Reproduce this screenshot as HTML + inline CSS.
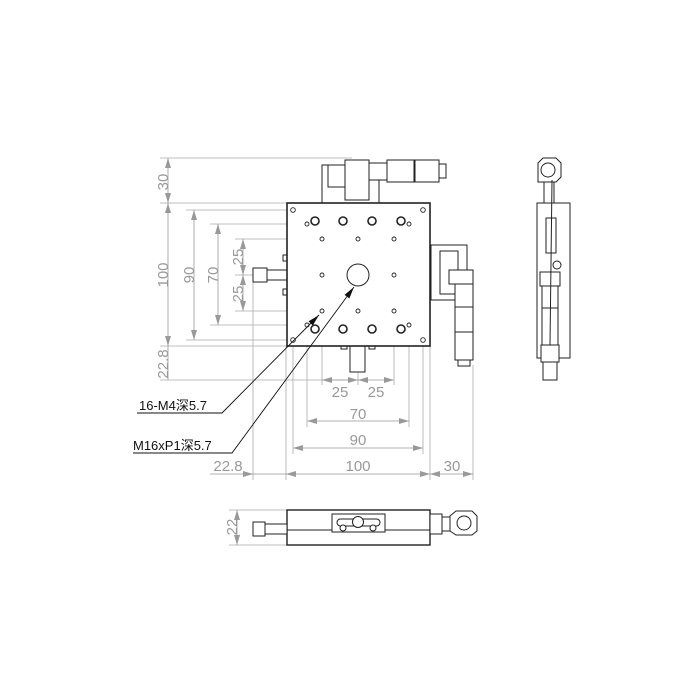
<!DOCTYPE html>
<html><head><meta charset="utf-8"><style>
html,body{margin:0;padding:0;background:#fff;}
svg{display:block}
text{font-family:"Liberation Sans","Noto Sans CJK SC",sans-serif;}
</style></head><body>
<svg width="700" height="700" viewBox="0 0 700 700" xmlns="http://www.w3.org/2000/svg">
<defs>
<marker id="a" viewBox="0 0 10 6" refX="10" refY="3" markerWidth="10" markerHeight="6" orient="auto-start-reverse" markerUnits="userSpaceOnUse"><path d="M0,0 L10,3 L0,6z" fill="#999"/></marker>
<marker id="k" viewBox="0 0 12 6" refX="12" refY="3" markerWidth="12" markerHeight="6" orient="auto" markerUnits="userSpaceOnUse"><path d="M0,0 L12,3 L0,6z" fill="#111"/></marker>
</defs>
<g stroke="#aaa" stroke-width="0.8" fill="none">
<line x1="160" y1="158" x2="352" y2="158"/>
<line x1="160" y1="203" x2="287" y2="203"/>
<line x1="186" y1="210" x2="293" y2="210"/>
<line x1="210" y1="224" x2="307" y2="224"/>
<line x1="235" y1="239" x2="322" y2="239"/>
<line x1="235" y1="275" x2="322" y2="275"/>
<line x1="235" y1="311" x2="322" y2="311"/>
<line x1="210" y1="325" x2="307" y2="325"/>
<line x1="186" y1="340" x2="293" y2="340"/>
<line x1="160" y1="346" x2="287" y2="346"/>
<line x1="160" y1="380" x2="358" y2="380"/>
<line x1="253" y1="282" x2="253" y2="480"/>
<line x1="286" y1="346" x2="286" y2="480"/>
<line x1="293" y1="340" x2="293" y2="454"/>
<line x1="307" y1="325" x2="307" y2="427"/>
<line x1="322" y1="311" x2="322" y2="385"/>
<line x1="358" y1="372" x2="358" y2="385"/>
<line x1="394" y1="311" x2="394" y2="385"/>
<line x1="409" y1="325" x2="409" y2="427"/>
<line x1="423" y1="340" x2="423" y2="454"/>
<line x1="430" y1="346" x2="430" y2="480"/>
<line x1="473" y1="365" x2="473" y2="480"/>
<line x1="229" y1="510" x2="287" y2="510"/>
<line x1="229" y1="545" x2="287" y2="545"/>
</g>
<g stroke="#999" stroke-width="0.8" fill="none" marker-start="url(#a)" marker-end="url(#a)">
<line x1="168" y1="158" x2="168" y2="203"/>
<line x1="168" y1="203" x2="168" y2="346"/>
<line x1="194" y1="210" x2="194" y2="340"/>
<line x1="218" y1="224" x2="218" y2="325"/>
<line x1="243" y1="239" x2="243" y2="275"/>
<line x1="243" y1="275" x2="243" y2="311"/>
<line x1="322" y1="380" x2="358" y2="380"/>
<line x1="358" y1="380" x2="394" y2="380"/>
<line x1="307" y1="421" x2="409" y2="421"/>
<line x1="293" y1="448" x2="423" y2="448"/>
<line x1="286" y1="474" x2="430" y2="474"/>
<line x1="430" y1="474" x2="473" y2="474"/>
<line x1="237" y1="510" x2="237" y2="545"/>
</g>
<g stroke="#999" stroke-width="0.8" fill="none">
<line x1="168" y1="346" x2="168" y2="380"/>
<line x1="210" y1="474" x2="286" y2="474"/>
<line x1="243" y1="474" x2="253" y2="474" marker-end="url(#a)"/>
</g>
<g fill="#999" font-size="15">
<text transform="translate(168,182) rotate(-90)" text-anchor="middle">30</text>
<text transform="translate(168,275) rotate(-90)" text-anchor="middle">100</text>
<text transform="translate(194,275) rotate(-90)" text-anchor="middle">90</text>
<text transform="translate(218,275) rotate(-90)" text-anchor="middle">70</text>
<text transform="translate(243,257) rotate(-90)" text-anchor="middle">25</text>
<text transform="translate(243,294) rotate(-90)" text-anchor="middle">25</text>
<text transform="translate(168,364) rotate(-90)" text-anchor="middle">22.8</text>
<text transform="translate(237,527) rotate(-90)" text-anchor="middle">22</text>
<text x="340" y="397" text-anchor="middle">25</text>
<text x="376" y="397" text-anchor="middle">25</text>
<text x="358" y="419" text-anchor="middle">70</text>
<text x="358" y="445" text-anchor="middle">90</text>
<text x="358" y="471" text-anchor="middle">100</text>
<text x="228" y="471" text-anchor="middle">22.8</text>
<text x="452" y="471" text-anchor="middle">30</text>
</g>
<g fill="#111" font-size="13">
<text x="139" y="410">16-M4深5.7</text>
<text x="133" y="450">M16xP1深5.7</text>
</g>
<g stroke="#222" stroke-width="1" fill="#fff">
<rect x="322" y="165" width="57" height="38"/>
<rect x="328" y="165" width="22" height="22"/>
<rect x="345" y="160" width="24" height="40"/>
<rect x="369" y="163" width="18" height="17"/>
<rect x="387" y="160" width="52" height="22"/>
<rect x="414" y="160" width="1" height="22"/>
<rect x="439" y="164" width="7" height="14"/>
<rect x="431" y="245" width="36" height="55"/>
<rect x="440" y="251" width="18" height="43"/>
<rect x="449" y="270" width="24" height="14"/>
<rect x="455" y="284" width="18" height="76"/>
<rect x="455" y="307" width="18" height="25"/>
<rect x="458" y="360" width="12" height="6"/>
<rect x="253" y="268" width="14" height="14"/>
<rect x="267" y="270" width="20" height="10"/>
<rect x="283" y="255" width="4" height="6"/>
<rect x="283" y="289" width="4" height="6"/>
<rect x="350" y="346" width="15" height="26"/>
<rect x="341" y="346" width="6" height="3"/>
<rect x="369" y="346" width="6" height="3"/>
<rect x="287" y="203" width="143" height="143" stroke-width="1.6"/>
</g>
<g stroke="#222" fill="none">
<circle cx="358" cy="275" r="11" stroke-width="1"/>
<g stroke-width="1.6">
<circle cx="315" cy="221" r="4"/><circle cx="343" cy="221" r="4"/><circle cx="372" cy="221" r="4"/><circle cx="401" cy="221" r="4"/>
<circle cx="315" cy="329" r="4"/><circle cx="343" cy="329" r="4"/><circle cx="372" cy="329" r="4"/><circle cx="401" cy="329" r="4"/>
</g>
<g stroke-width="0.9">
<circle cx="293" cy="210" r="2.3"/><circle cx="423" cy="210" r="2.3"/><circle cx="293" cy="340" r="2.3"/><circle cx="423" cy="340" r="2.3"/>
<circle cx="307" cy="224" r="2"/><circle cx="409" cy="224" r="2"/><circle cx="307" cy="325" r="2"/><circle cx="409" cy="325" r="2"/>
<circle cx="322" cy="239" r="2"/><circle cx="358" cy="239" r="2"/><circle cx="394" cy="239" r="2"/>
<circle cx="322" cy="275" r="2"/><circle cx="394" cy="275" r="2"/>
<circle cx="322" cy="311" r="2"/><circle cx="358" cy="311" r="2"/><circle cx="394" cy="311" r="2"/>
</g>
</g>
<!-- leaders drawn on top -->
<g stroke="#111" stroke-width="0.9" fill="none">
<polyline points="137,413 222,413 319,315" marker-end="url(#k)"/>
<polyline points="133,453 232,453 354,287" marker-end="url(#k)"/>
</g>
<g stroke="#222" stroke-width="1" fill="#fff">
<rect x="537" y="203" width="33" height="155"/>
<rect x="544" y="180" width="10" height="23"/>
<path d="M538,163 L543,158 L556,158 L561,163 L561,177 L556,182 L538,182 Z"/>
<circle cx="548" cy="170" r="7"/>
<rect x="546" y="218" width="10" height="35"/>
<circle cx="557" cy="265" r="4"/>
<rect x="540" y="272" width="20" height="14"/>
<rect x="542" y="286" width="16" height="22"/>
<rect x="542" y="308" width="16" height="37"/>
<rect x="541" y="345" width="18" height="17"/>
<rect x="543" y="362" width="14" height="18"/>
<line x1="552" y1="180" x2="550" y2="345"/>
</g>
<g stroke="#222" stroke-width="1" fill="#fff">
<rect x="287" y="510" width="143" height="35" stroke-width="1.4"/>
<line x1="287" y1="530" x2="430" y2="530"/>
<rect x="253" y="522" width="12" height="14"/>
<rect x="265" y="524" width="22" height="10"/>
<path d="M332,514 L385,514 L385,532 L332,532 Z"/>
<rect x="337" y="519" width="43" height="7" rx="3.5"/>
<circle cx="358" cy="522" r="5.5"/>
<circle cx="343" cy="528" r="3"/><circle cx="373" cy="528" r="3"/>
<rect x="430" y="514" width="12" height="20"/>
<rect x="442" y="517" width="8" height="14"/>
<path d="M450,516 L456,511 L472,511 L477,516 L477,531 L472,535 L456,535 L450,531 Z"/>
<circle cx="464" cy="523" r="7"/>
</g>
</svg>
</body></html>
